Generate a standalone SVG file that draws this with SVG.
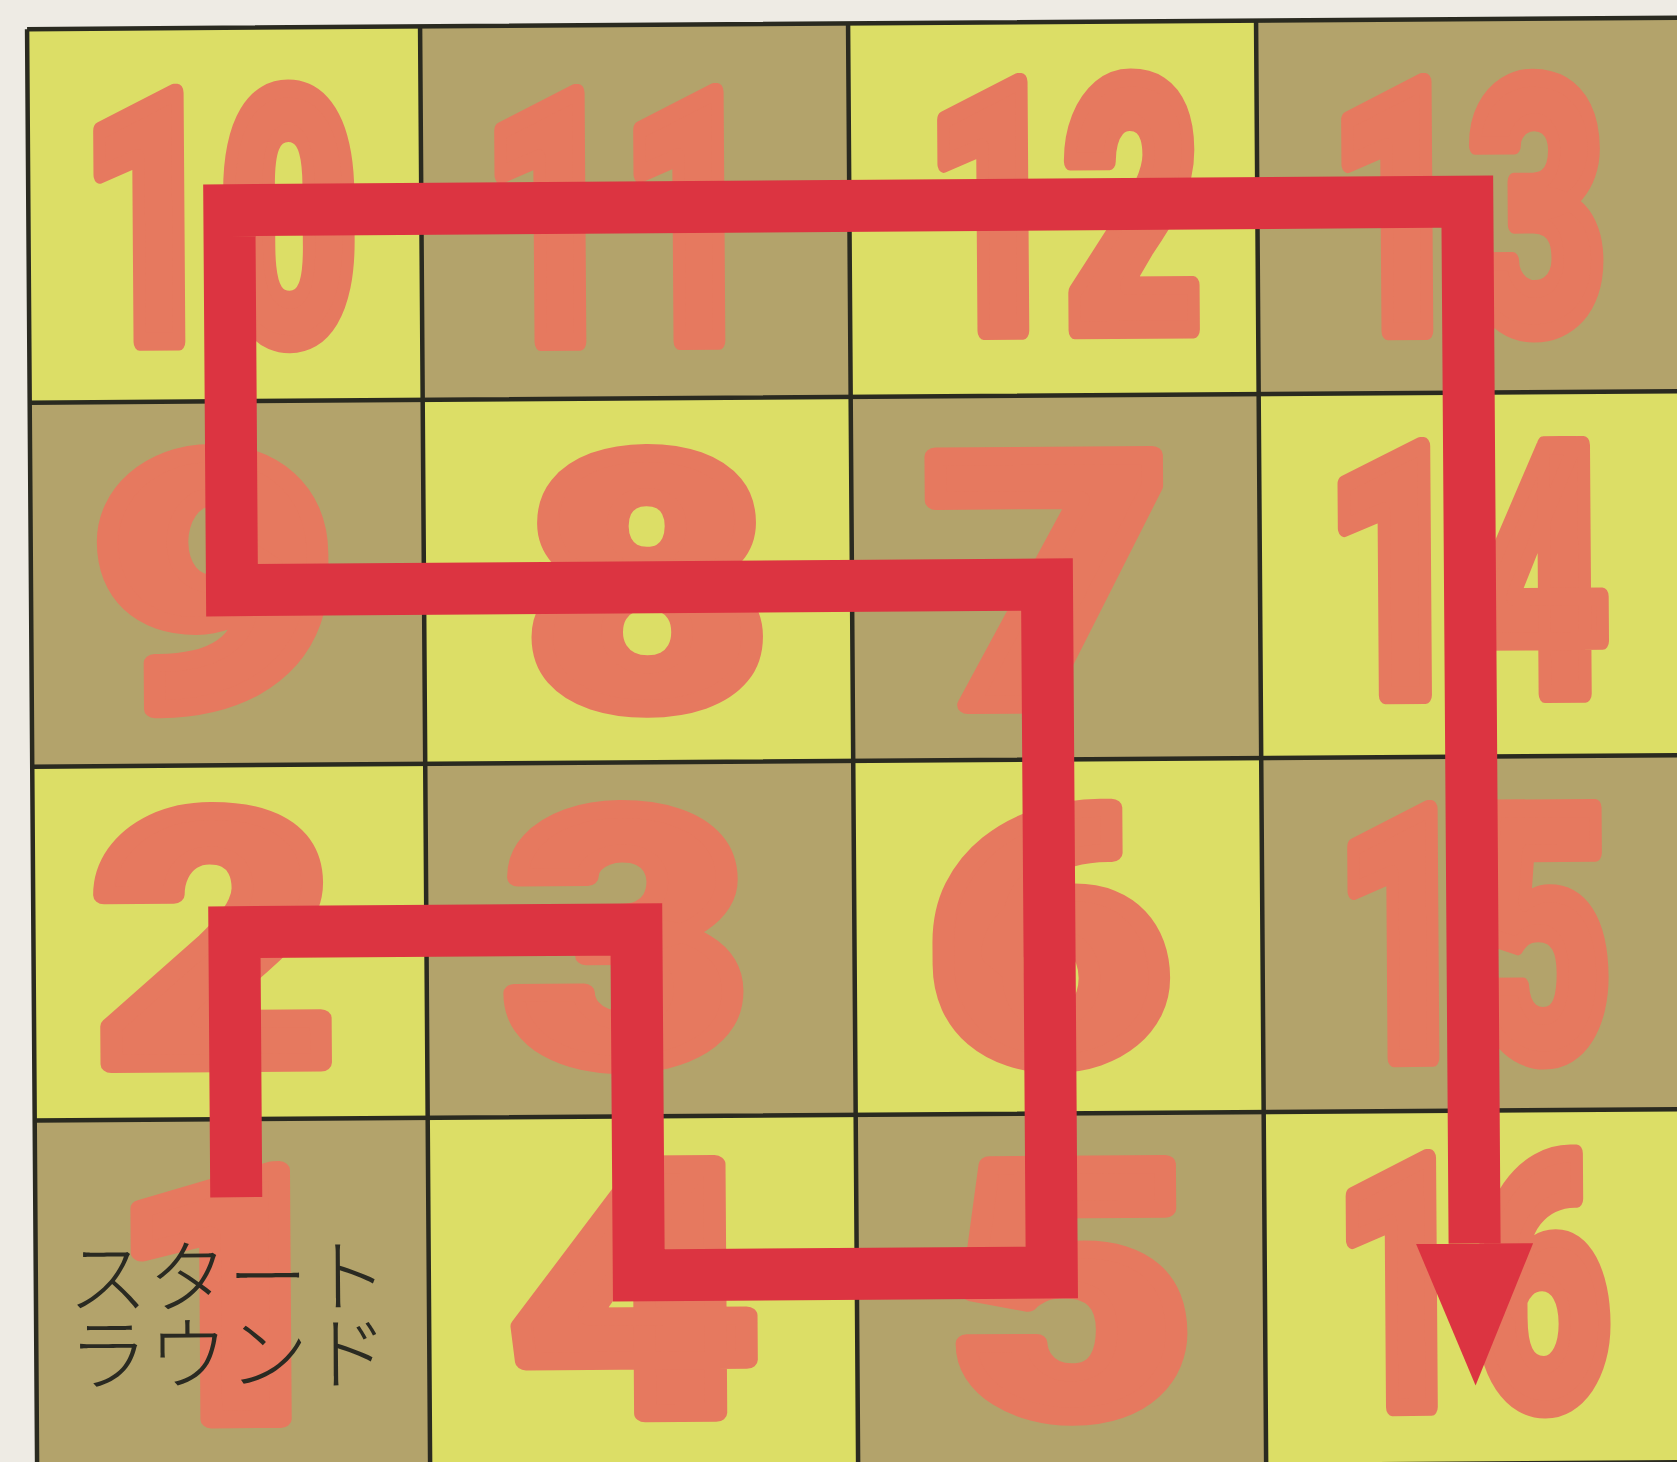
<svg xmlns="http://www.w3.org/2000/svg" width="1677" height="1462" viewBox="0 0 1677 1462">
<style>
.y{fill:#DCDE66}
.k{fill:#B3A36B}
.n{font-family:Roboto,"Liberation Sans",Arial,sans-serif;font-weight:900;font-size:350px;fill:#E6795F;stroke:#E6795F;stroke-width:18px;stroke-linejoin:round;text-anchor:middle}
.g{stroke:#2A2A20;stroke-width:4.5;fill:none}
.route{fill:none;stroke:#DC3441;stroke-width:52;stroke-linejoin:miter;stroke-linecap:butt}
.lbl{font-family:"Noto Sans CJK JP","Noto Sans CJK SC",sans-serif;font-size:80px;font-weight:300;fill:#2A2A22}
</style>
<defs>
<marker id="ah" markerUnits="userSpaceOnUse" viewBox="0 -60 143 120" markerWidth="143" markerHeight="120" refX="0" refY="0" orient="auto">
<path d="M0,-58.5 L142,0 L0,58.5 Z" fill="#DC3441"/>
</marker>
</defs>
<rect x="0" y="0" width="1677" height="1462" fill="#EEEBE4"/>
<g transform="rotate(-0.4 838 731)">
<g id="cell10"><rect class="y" x="32" y="23.5" width="393" height="373.5"/><text class="n" x="223" y="337" textLength="278" lengthAdjust="spacingAndGlyphs">10</text></g>
<g id="cell11"><rect class="k" x="425" y="23.5" width="428" height="373.5"/><text class="n" x="624" y="340" textLength="278" lengthAdjust="spacingAndGlyphs">11</text></g>
<g id="cell12"><rect class="y" x="853" y="23.5" width="408" height="373.5"/><text class="n" x="1067" y="332" textLength="278" lengthAdjust="spacingAndGlyphs">12</text></g>
<g id="cell13"><rect class="k" x="1261" y="23.5" width="460" height="373.5"/><text class="n" x="1471" y="335" textLength="278" lengthAdjust="spacingAndGlyphs">13</text></g>

<g id="cell9"><rect class="k" x="32" y="397" width="393" height="364"/><text class="n" x="215" y="701" textLength="245" lengthAdjust="spacingAndGlyphs">9</text></g>
<g id="cell8"><rect class="y" x="425" y="397" width="428" height="364"/><text class="n" x="648" y="704" textLength="245" lengthAdjust="spacingAndGlyphs">8</text></g>
<g id="cell7"><rect class="k" x="853" y="397" width="408" height="364"/><text class="n" x="1049" y="706" textLength="245" lengthAdjust="spacingAndGlyphs">7</text></g>
<g id="cell14"><rect class="y" x="1261" y="397" width="460" height="364"/><text class="n" x="1468" y="699" textLength="285" lengthAdjust="spacingAndGlyphs">14</text></g>

<g id="cell2"><rect class="y" x="32" y="761" width="393" height="354"/><text class="n" x="213" y="1059" textLength="245" lengthAdjust="spacingAndGlyphs">2</text></g>
<g id="cell3"><rect class="k" x="425" y="761" width="428" height="354"/><text class="n" x="625" y="1060" textLength="245" lengthAdjust="spacingAndGlyphs">3</text></g>
<g id="cell6"><rect class="y" x="853" y="761" width="408" height="354"/><text class="n" x="1047" y="1062" textLength="245" lengthAdjust="spacingAndGlyphs">6</text></g>
<g id="cell15"><rect class="k" x="1261" y="761" width="460" height="354"/><text class="n" x="1472" y="1062" textLength="278" lengthAdjust="spacingAndGlyphs">15</text></g>

<g id="cell1"><rect class="k" x="32" y="1115" width="393" height="400"/><text class="n" x="226" y="1415" textLength="245" lengthAdjust="spacingAndGlyphs">1</text>
<text class="lbl" x="64" y="1302">スタート</text><text class="lbl" x="64" y="1379">ラウンド</text></g>
<g id="cell4"><rect class="y" x="425" y="1115" width="428" height="400"/><text class="n" x="630" y="1412" textLength="250" lengthAdjust="spacingAndGlyphs">4</text></g>
<g id="cell5"><rect class="k" x="853" y="1115" width="408" height="400"/><text class="n" x="1068" y="1415" textLength="245" lengthAdjust="spacingAndGlyphs">5</text></g>
<g id="cell16"><rect class="y" x="1261" y="1115" width="460" height="400"/><text class="n" x="1468" y="1411" textLength="278" lengthAdjust="spacingAndGlyphs">16</text></g>

<g id="gridlines" class="g">
<path d="M32,23.5 V1520 M425,23.5 V1520 M853,23.5 V1520 M1261,23.5 V1520"/>
<path d="M32,23.5 H1740 M32,397 H1740 M32,761 H1740 M32,1115 H1740 M32,1468 H1740"/>
</g>

<g id="connectors">
<path class="route" d="M233,1193 V928 H635 V1274 H1048 V586 H233 V206 H1471 V1248" marker-end="url(#ah)"/>
</g>
</g>
</svg>
